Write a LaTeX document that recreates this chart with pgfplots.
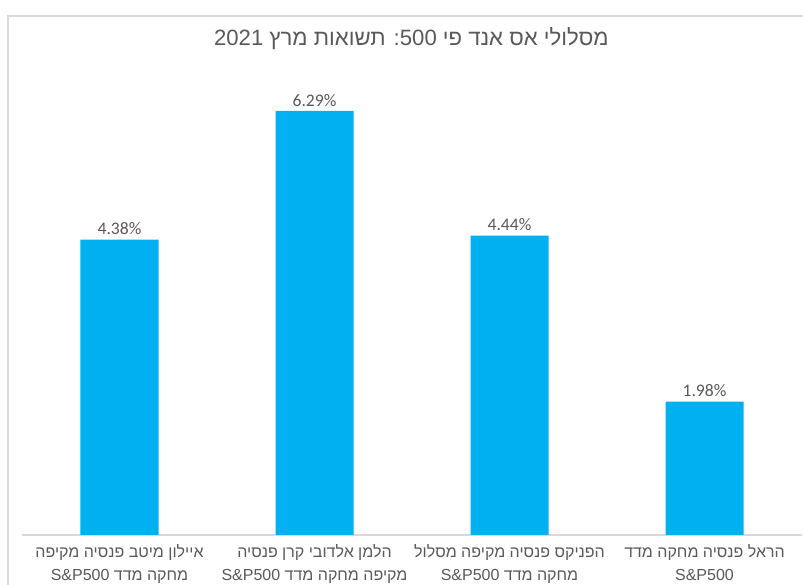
\documentclass[border=0pt]{standalone}
\usepackage{pgfplots}
\pgfplotsset{compat=1.18}
\usepackage{fontspec}
\setmainfont{Liberation Sans}
\newfontfamily\numfont{Carlito}
\newfontfamily\hefont[Script=Hebrew]{Liberation Sans}
\TeXXeTstate=1
\definecolor{barblue}{HTML}{00B0F0}
\definecolor{txtgray}{HTML}{595959}
\definecolor{linegray}{HTML}{D9D9D9}
\begin{document}
\begin{tikzpicture}[x=1pt,y=1pt]
\useasboundingbox (0,0) rectangle (602.25,438.75);
\draw[linegray, line width=1.1pt] (6,-20) -- (6,426.75) -- (640,426.75);
\node[font=\hefont\fontsize{16.6}{19}\selectfont, text=txtgray] at (308.5,409.5) {\beginR מסלולי אס אנד פי \beginL 500\endL: תשואות מרץ \beginL 2021\endL\endR};
\begin{axis}[
  at={(16.5pt,37.5pt)}, anchor=south west,
  scale only axis, width=585pt, height=353.9pt,
  xmin=-0.5, xmax=3.5, ymin=0, ymax=7,
  ybar, bar width=58.5pt,
  axis x line=bottom, axis y line=none,
  x axis line style={draw=linegray, line width=1pt, -},
  xtick={0,1,2,3}, ytick=\empty, major tick length=0pt,
  xticklabels={
    {\beginR איילון מיטב פנסיה מקיפה\endR\\\beginR מחקה מדד \beginL S\&P500\endL\endR},
    {\beginR הלמן אלדובי קרן פנסיה\endR\\\beginR מקיפה מחקה מדד \beginL S\&P500\endL\endR},
    {\beginR הפניקס פנסיה מקיפה מסלול\endR\\\beginR מחקה מדד \beginL S\&P500\endL\endR},
    {\beginR הראל פנסיה מחקה מדד\endR\\\beginL S\&P500\endL}
  },
  xticklabel style={font=\hefont\fontsize{12}{17}\selectfont, text=txtgray, align=center, yshift=-3.5pt},
  nodes near coords={\pgfmathprintnumber[fixed,fixed zerofill,precision=2,assume math mode=true]{\pgfplotspointmeta}\%},
  every node near coord/.append style={font=\numfont\fontsize{13.2}{15}\selectfont, text=txtgray},
  clip=false,
]
\addplot[fill=barblue, draw=none] coordinates {(0,4.38) (1,6.29) (2,4.44) (3,1.98)};
\end{axis}
\end{tikzpicture}
\end{document}
